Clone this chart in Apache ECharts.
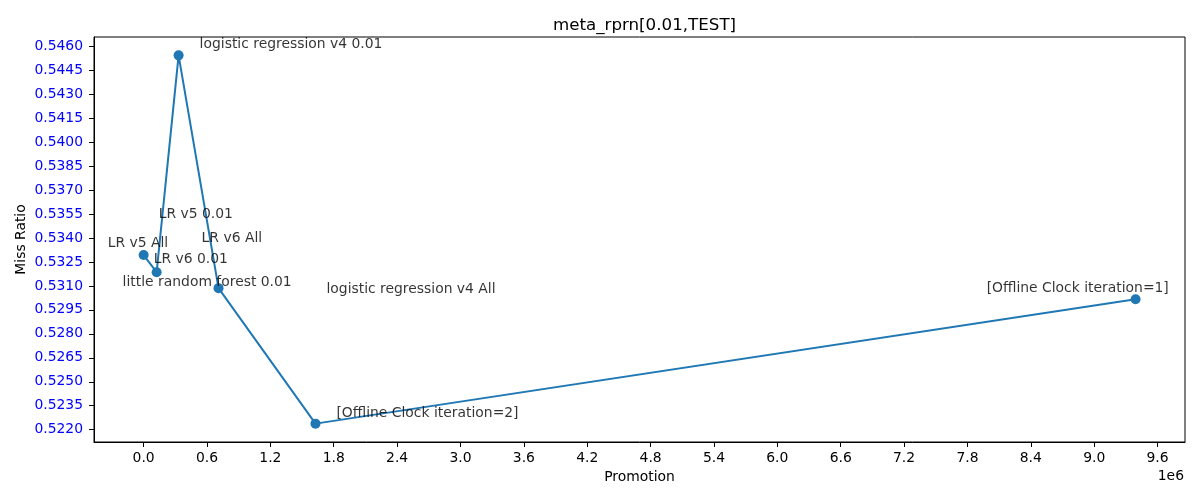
<!DOCTYPE html>
<html>
<head>
<meta charset="utf-8">
<script src="https://cdn.jsdelivr.net/npm/echarts@6/dist/echarts.min.js"></script>
<style>html,body{margin:0;padding:0;background:#fff}#c{width:1200px;height:500px}</style>
</head>
<body>
<div id="c"></div>
<script>
// Data points (Promotion, Miss Ratio)
const promotion = [0, 0.123e6, 0.331e6, 0.709e6, 1.627e6, 9.392e6];
const missRatio = [0.53293, 0.53186, 0.54543, 0.53086, 0.52238, 0.53017];

// Annotation texts and their anchor (left edge, middle) in data units
const annoText = ["LR v5 All", "LR v6 0.01", "logistic regression v4 0.01", "little random forest 0.01",
                  "LR v5 0.01", "LR v6 All", "logistic regression v4 All",
                  "[Offline Clock iteration=2]", "[Offline Clock iteration=1]"];
const annoX = [-0.340e6, 0.095e6, 0.530e6, -0.199e6, 0.142e6, 0.549e6, 1.731e6, 1.825e6, 7.982e6];
const annoY = [0.53368, 0.53268, 0.54613, 0.53124, 0.53545, 0.53400, 0.53080, 0.52301, 0.53086];

// Tick values
const xTicks = [0, 0.6e6, 1.2e6, 1.8e6, 2.4e6, 3.0e6, 3.6e6, 4.2e6, 4.8e6, 5.4e6, 6.0e6, 6.6e6, 7.2e6, 7.8e6, 8.4e6, 9.0e6, 9.6e6];
const yTicks = [0.5220, 0.5235, 0.5250, 0.5265, 0.5280, 0.5295, 0.5310, 0.5325, 0.5340, 0.5355, 0.5370, 0.5385, 0.5400, 0.5415, 0.5430, 0.5445, 0.5460];

const font = "DejaVu Sans";
const fs = 13.9;
const chart = echarts.init(document.getElementById('c'));
chart.setOption({
  animation: false,
  backgroundColor: '#fff',
  textStyle: { fontFamily: font },
  title: {
    text: 'meta_rprn[0.01,TEST]', left: 639.5, top: 12, textAlign: 'center',
    textStyle: { fontFamily: font, fontSize: 16.7, fontWeight: 'normal', color: '#000' }
  },
  grid: { left: 94, right: 15, top: 37, bottom: 58, show: true, borderColor: '#000', borderWidth: 1, backgroundColor: 'transparent' },
  xAxis: {
    type: 'value', min: -0.47e6, max: 9.86e6,
    name: 'Promotion', nameLocation: 'middle', nameGap: 27,
    nameTextStyle: { fontFamily: font, fontSize: fs, color: '#000' },
    axisLine: { show: true, onZero: false, lineStyle: { color: '#000', width: 1 } },
    axisTick: { show: true, length: 5, lineStyle: { color: '#000' }, customValues: xTicks },
    axisLabel: { customValues: xTicks, fontFamily: font, fontSize: fs, color: '#000', margin: 9,
      formatter: v => (v / 1e6).toFixed(1) },
    splitLine: { show: false }
  },
  yAxis: {
    type: 'value', min: 0.52123, max: 0.54658,
    axisLine: { show: true, onZero: false, lineStyle: { color: '#000', width: 1 } },
    axisTick: { show: true, length: 5, lineStyle: { color: '#000' }, customValues: yTicks },
    axisLabel: { customValues: yTicks, fontFamily: font, fontSize: fs, color: '#0000ff', margin: 11,
      formatter: v => v.toFixed(4) },
    splitLine: { show: false }
  },
  graphic: [{
    type: 'text', right: 16, top: 469,
    style: { text: '1e6', font: fs + 'px "DejaVu Sans"', fill: '#000' }
  }, {
    type: 'text', x: 21, y: 239.5, rotation: Math.PI / 2,
    style: { text: 'Miss Ratio', font: fs + 'px "DejaVu Sans"', fill: '#000', align: 'center', verticalAlign: 'middle' }
  }],
  series: [
    {
      type: 'line', silent: true,
      data: promotion.map((x, i) => [x, missRatio[i]]),
      symbol: 'circle', symbolSize: 10, showAllSymbol: true,
      lineStyle: { color: '#1f77b4', width: 2 },
      itemStyle: { color: '#1f77b4' },
      z: 2
    },
    {
      type: 'scatter', silent: true,
      data: annoText.map((t, i) => ({ name: t, value: [annoX[i], annoY[i]] })),
      symbolSize: 0,
      label: { show: true, position: 'right', distance: 0, formatter: '{b}',
        fontFamily: font, fontSize: fs, color: '#000' },
      z: 3
    }
  ]
});
</script>
</body>
</html>
